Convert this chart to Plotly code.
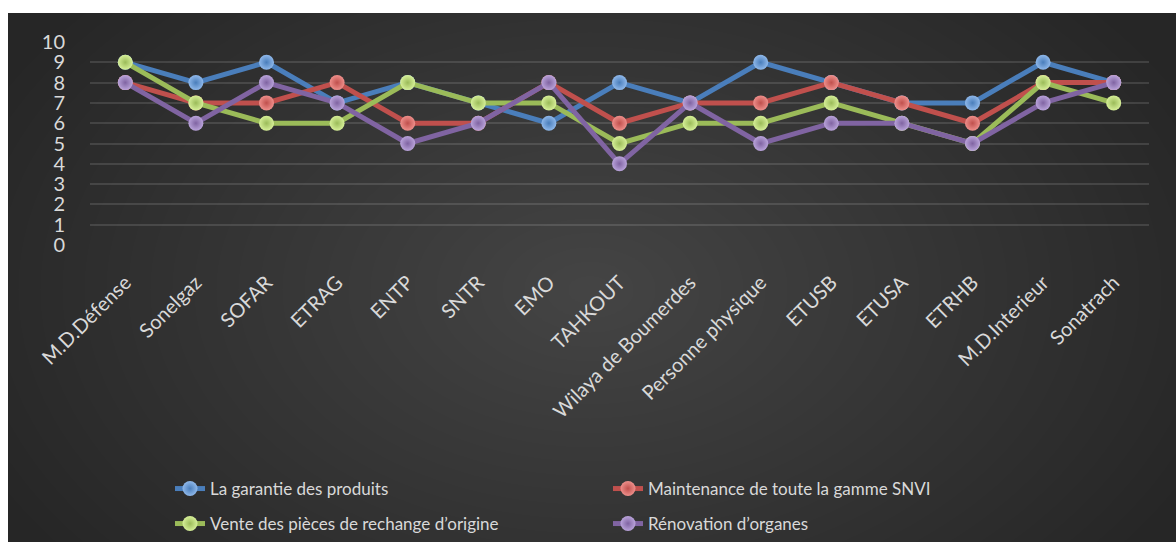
import plotly.graph_objects as go

categories = ["M.D.Défense", "Sonelgaz", "SOFAR", "ETRAG", "ENTP", "SNTR", "EMO", "TAHKOUT",
              "Wilaya de Boumerdes", "Personne physique", "ETUSB", "ETUSA", "ETRHB",
              "M.D.Interieur", "Sonatrach"]
garantie = [9, 8, 9, 7, 8, 7, 6, 8, 7, 9, 8, 7, 7, 9, 8]
maintenance = [8, 7, 7, 8, 6, 6, 8, 6, 7, 7, 8, 7, 6, 8, 8]
vente = [9, 7, 6, 6, 8, 7, 7, 5, 6, 6, 7, 6, 5, 8, 7]
renovation = [8, 6, 8, 7, 5, 6, 8, 4, 7, 5, 6, 6, 5, 7, 8]
series_names = ["La garantie des produits", "Maintenance de toute la gamme SNVI",
                "Vente des pièces de rechange d’origine", "Rénovation d’organes"]
y_ticks = [0, 1, 2, 3, 4, 5, 6, 7, 8, 9, 10]

W, H = 1176, 542
FONT = "Lato, 'Open Sans', sans-serif"
TXT = "#d9d9d9"

styles = [
    ("#4a7ebb", "#8fb8ea", "legend"),
    ("#c0504d", "#ee8f8b", "legend"),
    ("#9bbb59", "#d6ef98", "legend2"),
    ("#8064a2", "#b9a3da", "legend2"),
]

fig = go.Figure()
for name, vals, (col, light, leg) in zip(series_names, [garantie, maintenance, vente, renovation], styles):
    fig.add_trace(go.Scatter(
        x=categories, y=vals, name=name, mode="lines+markers",
        line=dict(color=col, width=5),
        marker=dict(size=15, color=light, symbol="circle",
                    gradient=dict(type="radial", color=col),
                    line=dict(width=0)),
        legend=leg,
    ))

shapes = [dict(type="rect", xref="paper", yref="paper", layer="below",
               x0=(8 - 90) / 1059, x1=(W - 90) / 1059,
               y0=(245 - H) / 203, y1=(245 - 13) / 203,
               fillcolor="#262626", line=dict(width=0))]
# soft radial lightening toward the centre
cx, cy = 590, 290
N = 30
for i in range(N):
    f = (N - i) / N
    rx, ry = 660 * f, 430 * f
    shapes.append(dict(type="circle", xref="paper", yref="paper", layer="below",
                       x0=(cx - rx - 90) / 1059, x1=(cx + rx - 90) / 1059,
                       y0=(245 - (cy + ry)) / 203, y1=(245 - (cy - ry)) / 203,
                       fillcolor="white", opacity=0.0095, line=dict(width=0)))

legend_common = dict(orientation="h", xanchor="left", yanchor="middle", yref="container",
                     entrywidth=393, entrywidthmode="pixels",
                     bgcolor="rgba(0,0,0,0)", font=dict(size=17, color=TXT, family=FONT))

fig.update_layout(
    width=W, height=H,
    margin=dict(l=90, r=W - 1149, t=42, b=H - 245),
    paper_bgcolor="white", plot_bgcolor="rgba(0,0,0,0)",
    font=dict(family=FONT, color=TXT, size=17),
    shapes=shapes,
    showlegend=True,
    legend=dict(x=(170 - 90) / 1059, y=1 - 489 / H, **legend_common),
    legend2=dict(x=(170 - 90) / 1059, y=1 - 524 / H, **legend_common),
)
fig.update_xaxes(type="category", tickangle=-45, showgrid=False, zeroline=False,
                 showline=False, ticks="outside", ticklen=0, ticklabelstandoff=17,
                 tickfont=dict(size=20, color=TXT, family=FONT),
                 range=[-0.5, len(categories) - 0.5])
fig.update_yaxes(range=[0, 10], tickvals=y_ticks, ticktext=[str(v) for v in y_ticks],
                 showgrid=True, gridcolor="rgba(255,255,255,0.12)", gridwidth=2,
                 zeroline=False, showline=False, ticks="outside", ticklen=0,
                 ticklabelstandoff=20, tickfont=dict(size=20, color=TXT, family=FONT))

fig.write_html("out.html")
